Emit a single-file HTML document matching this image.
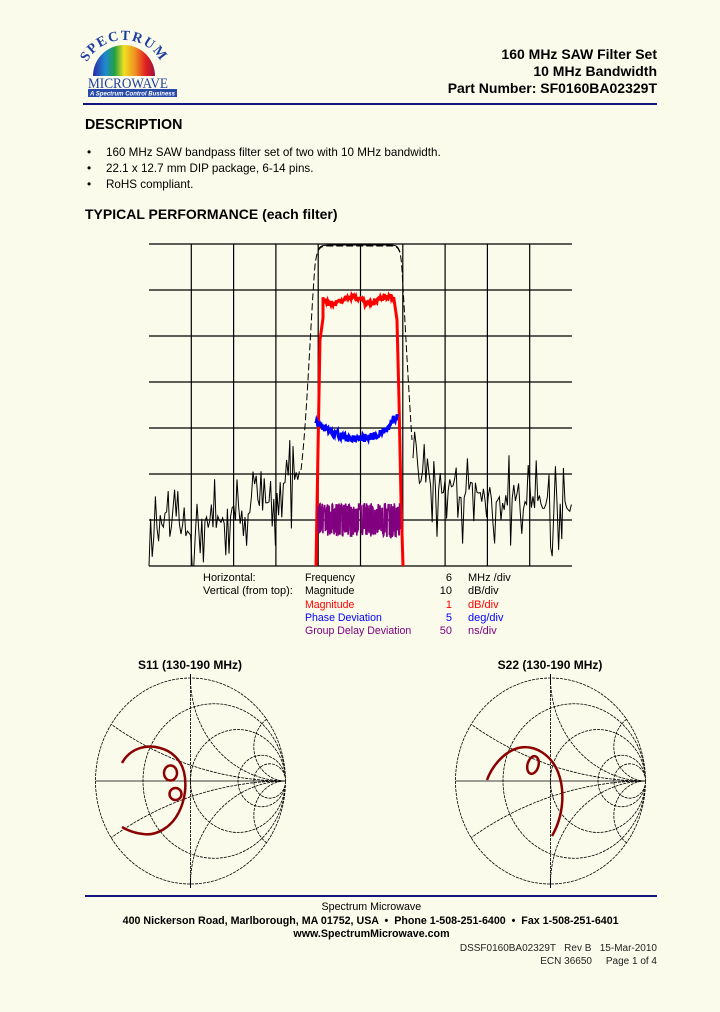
<!DOCTYPE html>
<html><head><meta charset="utf-8"><style>
html,body{margin:0;background:#FBFBEB;width:720px;height:1012px;overflow:hidden}
#p{position:relative;width:720px;height:1012px;background:#FBFBEB;font-family:"Liberation Sans",Arial,sans-serif;color:#000;overflow:hidden}
.t{position:absolute;white-space:nowrap}
.b{font-weight:bold}
.c{display:inline-block;transform:scaleX(.97);transform-origin:center}
</style></head><body><div id="p">
<svg width="720" height="1012" style="position:absolute;left:0;top:0;display:block">
<defs>
<linearGradient id="rb" x1="0" x2="1" y1="0" y2="0">
<stop offset="0" stop-color="#2a2aa8"/><stop offset=".2" stop-color="#1e8ad0"/><stop offset=".35" stop-color="#22a040"/><stop offset=".5" stop-color="#f0e020"/><stop offset=".68" stop-color="#f09020"/><stop offset=".85" stop-color="#e02020"/><stop offset="1" stop-color="#a01040"/>
</linearGradient>
<path id="arc" d="M82,82 A42,42 0 0 1 166,82"/>
<clipPath id="c1"><ellipse cx="190.5" cy="781" rx="95" ry="103"/></clipPath>
<clipPath id="c2"><ellipse cx="550.5" cy="781" rx="95" ry="103"/></clipPath>
</defs>
<path d="M93,76 A31,31 0 0 1 155,76 Z" fill="url(#rb)"/>
<text font-family="Liberation Serif,serif" font-size="14" fill="#1f3fa0" font-weight="bold" letter-spacing="1.5"><textPath href="#arc" startOffset="50%" text-anchor="middle">SPECTRUM</textPath></text>
<text x="88" y="88" font-family="Liberation Serif,serif" font-size="15" fill="#1f3fa0" textLength="80" lengthAdjust="spacingAndGlyphs">MICROWAVE</text>
<rect x="88" y="89" width="89" height="8" fill="#2a4aa8"/>
<text x="90" y="95.5" font-size="6.5" fill="#fff" font-style="italic" font-weight="bold" textLength="85" lengthAdjust="spacingAndGlyphs">A Spectrum Control Business</text>
<line x1="83" y1="104" x2="657" y2="104" stroke="#141480" stroke-width="2"/>
<g stroke="#000" stroke-width="1.2" id="grid"></g>
<g id="traces"></g>
<g id="sm"></g>
<line x1="85" y1="896" x2="657" y2="896" stroke="#141480" stroke-width="2"/>
</svg>
<div class="t b" style="right:63px;top:46px;font-size:14px;text-align:right;line-height:17px">160 MHz SAW Filter Set<br>10 MHz Bandwidth<br>Part Number: SF0160BA02329T</div>
<div class="t b" style="left:85px;top:116px;font-size:15px;transform:scaleX(.95);transform-origin:left">DESCRIPTION</div>
<div class="t" style="left:87px;top:144px;font-size:12px;line-height:16px">•<br>•<br>•</div>
<div class="t" style="left:106px;top:144px;font-size:12px;line-height:16px;transform:scaleX(.97);transform-origin:left">160 MHz SAW bandpass filter set of two with 10 MHz bandwidth.<br>22.1 x 12.7 mm DIP package, 6-14 pins.<br>RoHS compliant.</div>
<div class="t b" style="left:85px;top:206px;font-size:14px">TYPICAL PERFORMANCE (each filter)</div>
<div class="t" style="left:203px;top:572px;font-size:11px;line-height:13.3px">Horizontal:<br>Vertical (from top):</div>
<div class="t" style="left:305px;top:572px;font-size:11px;line-height:13.3px;transform:scaleX(.96);transform-origin:left">Frequency<br>Magnitude<br><span style="color:#f00">Magnitude</span><br><span style="color:#00f">Phase Deviation</span><br><span style="color:#800080">Group Delay Deviation</span></div>
<div class="t" style="left:430px;width:22px;text-align:right;top:572px;font-size:11px;line-height:13.3px">6<br>10<br><span style="color:#f00">1</span><br><span style="color:#00f">5</span><br><span style="color:#800080">50</span></div>
<div class="t" style="left:468px;top:572px;font-size:11px;line-height:13.3px">MHz /div<br>dB/div<br><span style="color:#f00">dB/div</span><br><span style="color:#00f">deg/div</span><br><span style="color:#800080">ns/div</span></div>
<div class="t b" style="left:134px;top:658px;font-size:12px;width:112px;text-align:center">S11 (130-190 MHz)</div>
<div class="t b" style="left:494px;top:658px;font-size:12px;width:112px;text-align:center">S22 (130-190 MHz)</div>
<div class="t" style="left:71px;width:600px;text-align:center;top:901px;font-size:11px;line-height:13.5px"><span class="c">Spectrum Microwave</span><br><b class="c">400 Nickerson Road, Marlborough, MA 01752, USA &nbsp;•&nbsp; Phone 1-508-251-6400 &nbsp;•&nbsp; Fax 1-508-251-6401</b><br><b class="c">www.SpectrumMicrowave.com</b></div>
<div class="t" style="right:63px;top:942px;font-size:10px;line-height:13px;text-align:right;color:#222">DSSF0160BA02329T &nbsp; Rev B &nbsp; 15-Mar-2010<br>ECN 36650 &nbsp;&nbsp;&nbsp; Page 1 of 4</div>
</div>
<script>
var NS="http://www.w3.org/2000/svg";
function el(t,a,p){var e=document.createElementNS(NS,t);for(var k in a)e.setAttribute(k,a[k]);p.appendChild(e);return e;}
var s=12345;function r(){s=(s*16807)%2147483647;return s/2147483647;}
var g=document.getElementById('grid');
var X0=149,X1=572,Y0=244,Y1=566;
for(var i=1;i<10;i++){var x=X0+(X1-X0)*i/10;el('line',{x1:x,y1:Y0,x2:x,y2:Y1},g);}
for(var j=0;j<8;j++){var y=Y0+46*j;el('line',{x1:X0,y1:y,x2:X1,y2:y},g);}
var tr=document.getElementById('traces');
function stop(x){
 if(x<318){var t=(x-149)/(300-149);return 535-60*t*t;}
 else {var t=(x-412)/(572-412);return 465+45*Math.sqrt(Math.max(t,0));}
}
function noise(a,b){var d="";for(var x=a;x<=b;x+=1.6){var v=r();var dy=(v<0.15)?(20+r()*35):(v>0.85?-(15+r()*30):(r()-0.5)*22);d+=(d?" L":"M")+x.toFixed(1)+","+Math.min(566,stop(x)+dy).toFixed(1);}return d;}
el('path',{d:noise(149,300),fill:'none',stroke:'#000','stroke-width':1},tr);
el('path',{d:noise(413,572),fill:'none',stroke:'#000','stroke-width':1},tr);
el('path',{d:"M301,470 C307,420 310,330 315,265 C317,250 319,247 325,246 L394,246 C399,247 401,252 402,270 C405,320 408,380 412,440",fill:'none',stroke:'#000','stroke-width':1,'stroke-dasharray':'7,3'},tr);
el('path',{d:"M318,250 C320,246 322,245 330,245 L390,245 C396,245 398,246 400,252",fill:'none',stroke:'#000','stroke-width':1},tr);
var rd="M316,566 L318,450 L320,340 L323,318";
for(var x=323;x<=394;x+=0.7){var y=300+4*Math.sin((x-323)/6)+ (r()-0.5)*6;rd+=" L"+x.toFixed(1)+","+y.toFixed(1);}
rd+=" L397,320 L399,400 L401,500 L403,566";
el('path',{d:rd,fill:'none',stroke:'#f00','stroke-width':3},tr);
var bd="M316,422";
for(var x=316;x<=398;x+=0.6){var u=(x-357)/41;var y=438-16*u*u-(u>0.8?6:0)+(r()-0.5)*7;bd+=" L"+x.toFixed(1)+","+y.toFixed(1);}
el('path',{d:bd,fill:'none',stroke:'#00f','stroke-width':3},tr);
var pd="M318,520";
for(var x=318;x<=400;x+=0.35){var a=8+r()*9;pd+=" L"+x.toFixed(2)+","+(520+(r()<0.5?-a:a)).toFixed(1);}
el('path',{d:pd,fill:'none',stroke:'#800080','stroke-width':1.6},tr);
var sm=document.getElementById('sm');
function smith(cx,cid){
 var cy=781,RX=95,RY=103;
 var gg=el('g',{'clip-path':'url(#'+cid+')',fill:'none',stroke:'#000','stroke-width':0.8,'stroke-dasharray':'3,1'},sm);
 function circ(ux,uy,ur){el('ellipse',{cx:cx+ux*RX,cy:cy-uy*RY,rx:ur*RX,ry:ur*RY},gg);}
 [1/3,1,3,5].forEach(function(R){circ(R/(1+R),0,1/(1+R));});
 [0.3,1,3].forEach(function(X){circ(1,1/X,1/X);circ(1,-1/X,1/X);});
 el('line',{x1:cx-RX,y1:cy,x2:cx+RX,y2:cy,'stroke-dasharray':'none'},gg);
 el('line',{x1:cx,y1:cy-RY,x2:cx,y2:cy+RY},gg);
 el('ellipse',{cx:cx,cy:cy,rx:RX,ry:RY,fill:'none',stroke:'#000','stroke-width':0.8,'stroke-dasharray':'3,1'},sm);
 el('line',{x1:cx,y1:cy-RY-4,x2:cx,y2:cy-RY+6,stroke:'#000'},sm);
 el('line',{x1:cx,y1:cy+RY-6,x2:cx,y2:cy+RY+4,stroke:'#000'},sm);
}
smith(190.5,'c1');smith(550.5,'c2');
var st={fill:'none',stroke:'#8b0000','stroke-width':2.5};
function P(d){var a={};for(var k in st)a[k]=st[k];a.d=d;el('path',a,sm);}
P("M122,763 C130,748 147,744 160,748 C172,751 181,760 184,772 C187,785 185,800 179,812 C171,828 156,836 143,834 C133,833 127,830 122,827");
el('ellipse',{cx:170.5,cy:773,rx:6.5,ry:7.5,fill:'none',stroke:'#8b0000','stroke-width':2.5},sm);
el('ellipse',{cx:175.5,cy:794,rx:6,ry:6,fill:'none',stroke:'#8b0000','stroke-width':2.5},sm);
P("M487,780 C492,766 504,752 518,748 C535,744 551,755 558,772 C565,790 564,815 552,836");
el('ellipse',{cx:533,cy:765,rx:5.5,ry:9,fill:'none',stroke:'#8b0000','stroke-width':2.5,transform:'rotate(15 533 765)'},sm);
</script>
</body></html>
